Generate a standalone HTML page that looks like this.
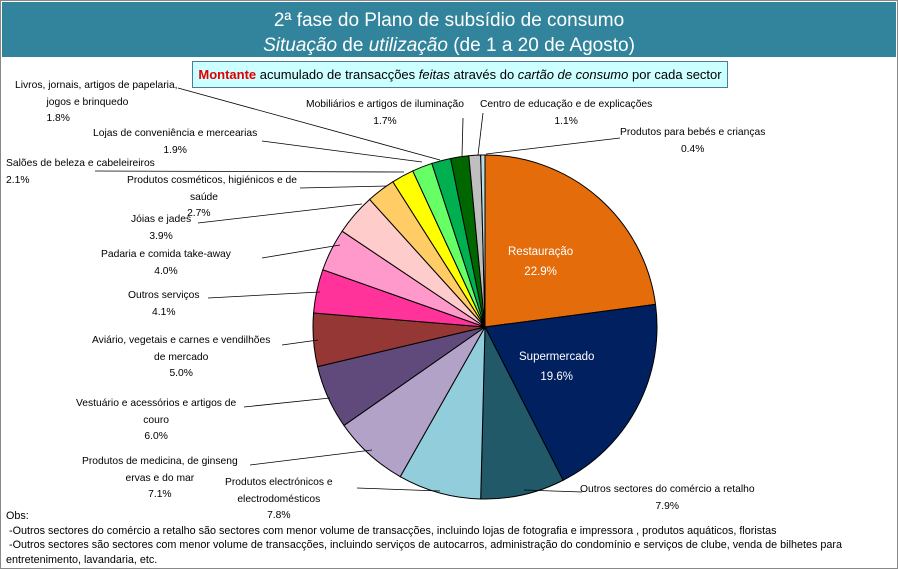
<!DOCTYPE html>
<html><head><meta charset="utf-8"><style>
body{margin:0;width:898px;height:569px;background:#fff;font-family:"Liberation Sans",sans-serif;overflow:hidden;position:relative}
#hdr{position:absolute;left:2px;top:2px;width:894px;height:55px;background:#31849B;color:#fff;text-align:center;font-size:19px;line-height:25px;padding-top:6px;box-sizing:border-box}
#box{position:absolute;left:192px;top:61px;width:536px;height:27px;background:#CCFFFF;border:1px solid #4a7aa0;box-sizing:border-box;font-size:13px;line-height:25px;text-align:center;color:#000;white-space:nowrap}
.l{position:absolute;font-size:10.3px;color:#000;text-align:center;line-height:16.5px;white-space:nowrap}
#obs{position:absolute;left:6px;top:509px;font-size:10.8px;line-height:14.5px;white-space:nowrap}
</style></head><body>
<div id="hdr">2ª fase do Plano de subsídio de consumo<br><i>Situação</i> de <i>utilização</i> (de 1 a 20 de Agosto)</div>
<div id="box"><b style="color:#e00000">Montante</b> acumulado de transacções <i>feitas</i> através do <i>cartão de consumo</i> por cada sector</div>
<svg id="s" width="898" height="569" style="position:absolute;left:0;top:0"></svg>
<div class="l" style="left:15px;top:78px;text-align:left">Livros, jornais, artigos de papelaria,<br>&nbsp;&nbsp;&nbsp;&nbsp;&nbsp;&nbsp;&nbsp;&nbsp;&nbsp;&nbsp;&nbsp;jogos e brinquedo<br>&nbsp;&nbsp;&nbsp;&nbsp;&nbsp;&nbsp;&nbsp;&nbsp;&nbsp;&nbsp;&nbsp;1.8%</div>
<div class="l" style="left:306px;top:97px">Mobiliários e artigos de iluminação<br>1.7%</div>
<div class="l" style="left:480px;top:97px">Centro de educação e de explicações<br>1.1%</div>
<div class="l" style="left:620px;top:125px">Produtos para bebés e crianças<br>0.4%</div>
<div class="l" style="left:93px;top:126px">Lojas de conveniência e mercearias<br>1.9%</div>
<div class="l" style="left:6px;top:156px;text-align:left">Salões de beleza e cabeleireiros<br>2.1%</div>
<div class="l" style="left:127px;top:173px;text-align:left">Produtos cosméticos, higiénicos e de<br>&nbsp;&nbsp;&nbsp;&nbsp;&nbsp;&nbsp;&nbsp;&nbsp;&nbsp;&nbsp;&nbsp;&nbsp;&nbsp;&nbsp;&nbsp;&nbsp;&nbsp;&nbsp;&nbsp;&nbsp;&nbsp;&nbsp;saúde<br>&nbsp;&nbsp;&nbsp;&nbsp;&nbsp;&nbsp;&nbsp;&nbsp;&nbsp;&nbsp;&nbsp;&nbsp;&nbsp;&nbsp;&nbsp;&nbsp;&nbsp;&nbsp;&nbsp;&nbsp;&nbsp;2.7%</div>
<div class="l" style="left:131px;top:212px">Jóias e jades<br>3.9%</div>
<div class="l" style="left:101px;top:247px">Padaria e comida take-away<br>4.0%</div>
<div class="l" style="left:128px;top:288px">Outros serviços<br>4.1%</div>
<div class="l" style="left:92px;top:333px">Aviário, vegetais e carnes e vendilhões<br>de mercado<br>5.0%</div>
<div class="l" style="left:76px;top:396px">Vestuário e acessórios e artigos de<br>couro<br>6.0%</div>
<div class="l" style="left:82px;top:454px">Produtos de medicina, de ginseng<br>ervas e do mar<br>7.1%</div>
<div class="l" style="left:225px;top:475px">Produtos electrónicos e<br>electrodomésticos<br>7.8%</div>
<div class="l" style="left:580px;top:482px">Outros sectores do comércio a retalho<br>7.9%</div>
<div class="l" style="left:508px;top:242px;color:#fff;font-size:11.5px;line-height:20px">Restauração<br>22.9%</div>
<div class="l" style="left:519px;top:347px;color:#fff;font-size:11.5px;line-height:20px">Supermercado<br>19.6%</div>
<div id="obs">Obs:<br>&nbsp;-Outros sectores do comércio a retalho são sectores com menor volume de transacções, incluindo lojas de fotografia e impressora , produtos aquáticos, floristas<br>&nbsp;-Outros sectores são sectores com menor volume de transacções, incluindo serviços de autocarros, administração do condomínio e serviços de clube, venda de bilhetes para<br>entretenimento, lavandaria, etc.</div>
<script>
var d=[[22.9,"#E46C0A"],[19.6,"#002060"],[7.9,"#215968"],[7.8,"#92CDDC"],[7.1,"#B3A2C7"],[6.0,"#604A7B"],[5.0,"#953735"],[4.1,"#FF3399"],[4.0,"#FF99CC"],[3.9,"#FFCCCC"],[2.7,"#FFCC66"],[2.1,"#FFFF00"],[1.9,"#66FF66"],[1.8,"#00B050"],[1.7,"#006600"],[1.1,"#BFBFBF"],[0.4,"#B7DEE8"]];
var cx=485,cy=327,r=172,a=0,h='<rect x="0.5" y="0.5" width="897" height="568" fill="none" stroke="#888"/>';
d.forEach(function(v){var a2=a+v[0]/100*2*Math.PI;
var x1=cx+r*Math.sin(a),y1=cy-r*Math.cos(a),x2=cx+r*Math.sin(a2),y2=cy-r*Math.cos(a2);
h+='<path d="M'+cx+','+cy+'L'+x1+','+y1+'A'+r+','+r+' 0 '+(a2-a>Math.PI?1:0)+' 1 '+x2+','+y2+'Z" fill="'+v[1]+'" stroke="#000" stroke-width="1"/>';a=a2;});
var L=[[178,88,440,160],[463,118,462,156],[483,113,478,155],[620,138,486,154],[262,141,422,162],[95,171,404,172],[300,188,386,186],[198,223,362,204],[262,258,340,245],[208,298,320,292],[282,345,318,340],[244,407,330,398],[250,465,372,450],[357,488,440,491],[582,492,524,490]];
L.forEach(function(l){h+='<line x1="'+l[0]+'" y1="'+l[1]+'" x2="'+l[2]+'" y2="'+l[3]+'" stroke="#000" stroke-width="0.8"/>';});
document.getElementById('s').innerHTML=h;
</script>
</body></html>
